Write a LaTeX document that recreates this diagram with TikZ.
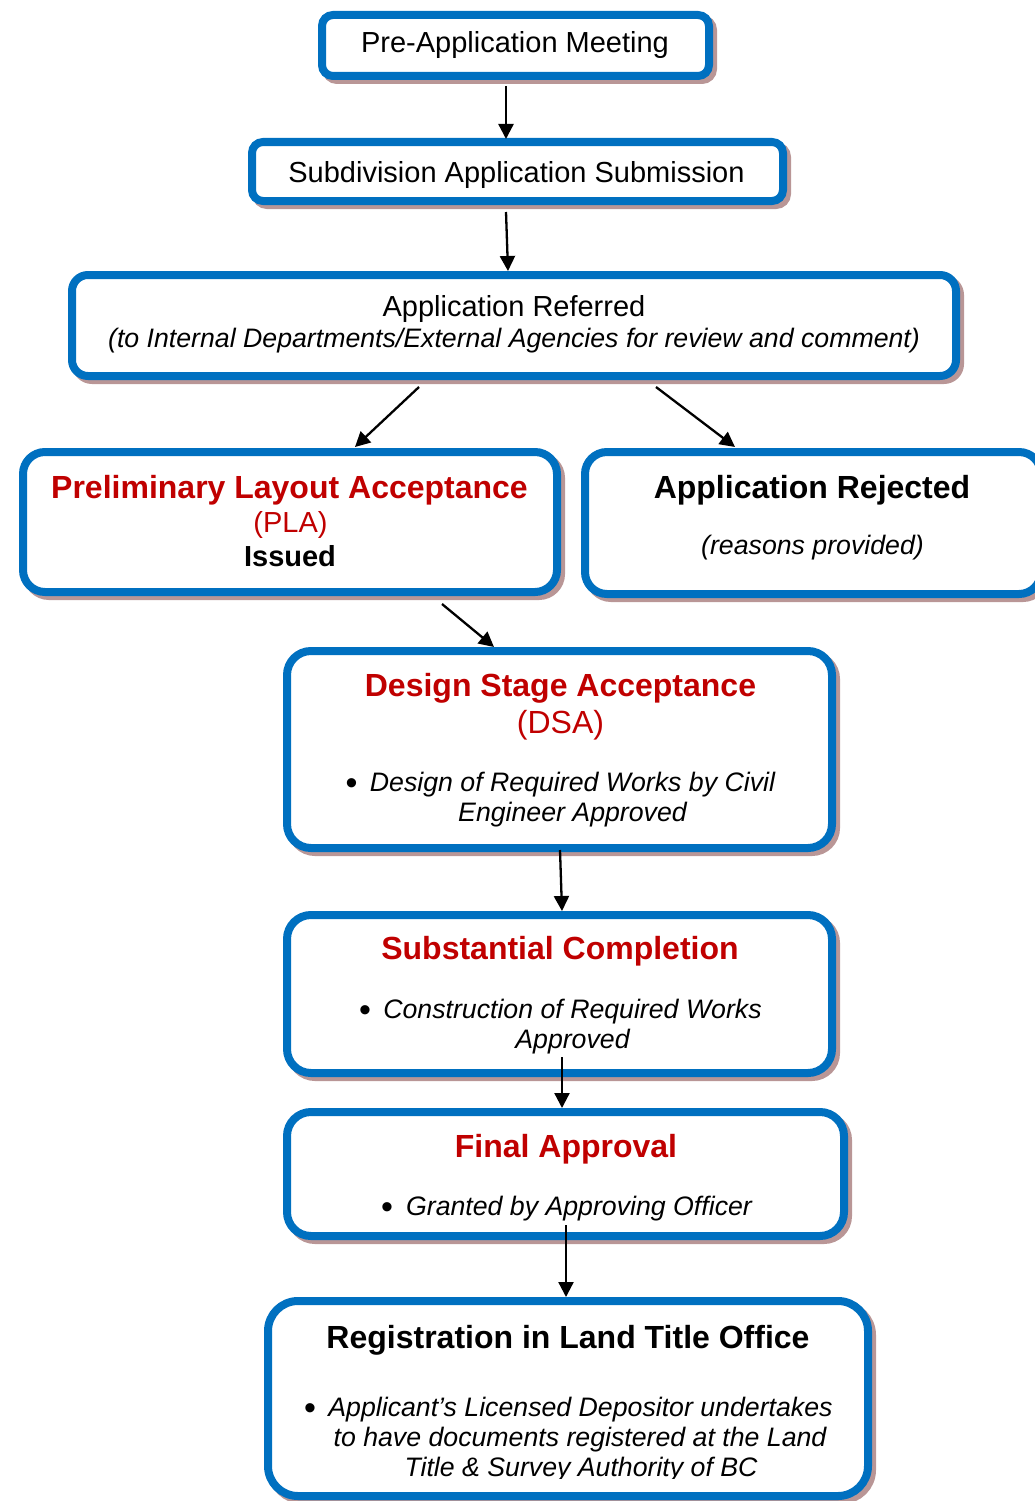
\documentclass[tikz,border=0pt]{standalone}
\usepackage{fontspec}
\setmainfont{Liberation Sans}
\usetikzlibrary{arrows.meta,calc}
\definecolor{bblue}{RGB}{0,112,192}
\definecolor{dred}{RGB}{192,0,0}
\definecolor{shad}{RGB}{185,150,150}
\begin{document}
\begin{tikzpicture}[x=1pt,y=-1pt,
  box/.style={draw=bblue, line width=8pt, fill=white, inner sep=0pt, outer sep=0pt,
    preaction={draw=shad, fill=shad, line width=8pt, transform canvas={shift={(4pt,-4pt)}}}},
  reg/.style={font=\fontsize{29}{34}\selectfont, anchor=base, inner sep=0pt},
  hd/.style={font=\fontsize{32}{38}\selectfont\bfseries, anchor=base, inner sep=0pt},
  it/.style={font=\fontsize{26.7}{30}\selectfont\itshape, anchor=base, inner sep=0pt},
  bul/.style={font=\fontsize{34}{38}\selectfont, anchor=base, inner sep=0pt},
  arr/.style={line width=2.3pt, -{Triangle[length=15pt,width=15pt]}}]
\useasboundingbox (0,0) rectangle (1035,1501);

% boxes
\node[box, rounded corners=11pt, minimum width=387pt, minimum height=61pt] (b1) at (515.5,45.5) {};
\node[box, rounded corners=11pt, minimum width=531pt, minimum height=59pt] (b2) at (517.5,171.5) {};
\node[box, rounded corners=16pt, minimum width=884pt, minimum height=101pt] (b3) at (514,325.5) {};
\node[box, rounded corners=22pt, minimum width=534pt, minimum height=140pt] (b4) at (290,522) {};
\node[box, rounded corners=22pt, minimum width=456pt, minimum height=142pt] (b5) at (813,523) {};
\node[box, rounded corners=24pt, minimum width=545pt, minimum height=197pt] (b6) at (559.5,749.5) {};
\node[box, rounded corners=24pt, minimum width=545pt, minimum height=158pt] (b7) at (559.5,994) {};
\node[box, rounded corners=24pt, minimum width=557pt, minimum height=124pt] (b8) at (565.5,1174) {};
\node[box, rounded corners=30pt, minimum width=600pt, minimum height=195pt] (b9) at (568,1398.5) {};

% texts
\node[reg] (t1) at (515,53) {Pre-Application Meeting};
\node[reg] (t2) at (516.5,182) {Subdivision Application Submission};
\node[reg] (t3a) at (514,316) {Application Referred};
\node[it] (t3b) at (514,347.5) {(to Internal Departments/External Agencies for review and comment)};

\node[hd, text=dred] (t4a) at (289.5,498) {Preliminary Layout Acceptance};
\node[reg, text=dred] (t4b) at (290.5,532) {(PLA)};
\node[reg, font=\fontsize{29}{34}\selectfont\bfseries] (t4c) at (290,566) {Issued};

\node[hd] (t5a) at (812,498) {Application Rejected};
\node[it] (t5b) at (812.5,554) {(reasons provided)};

\node[hd, text=dred] (t6a) at (560.5,696) {Design Stage Acceptance};
\node[reg, font=\fontsize{32}{38}\selectfont, text=dred] (t6b) at (560.5,733) {(DSA)};
\node[bul] (u6) at (351.5,794.5) {•};
\node[it] (t6c) at (572.5,791.5) {Design of Required Works by Civil};
\node[it] (t6d) at (572.5,821.5) {Engineer Approved};

\node[hd, text=dred] (t7a) at (560,959.5) {Substantial Completion};
\node[bul] (u7) at (365,1021.5) {•};
\node[it] (t7b) at (572.5,1018.5) {Construction of Required Works};
\node[it] (t7c) at (572.5,1048.5) {Approved};

\node[hd, text=dred] (t8a) at (566,1157.5) {Final Approval};
\node[bul] (u8) at (387,1218.5) {•};
\node[it] (t8b) at (579,1215.5) {Granted by Approving Officer};

\node[hd] (t9a) at (568,1348.5) {Registration in Land Title Office};
\node[bul] (u9) at (310,1419.5) {•};
\node[it] (t9b) at (580.5,1416.5) {Applicant’s Licensed Depositor undertakes};
\node[it] (t9c) at (580,1446.5) {to have documents registered at the Land};
\begin{scope}
\clip (0,1300) rectangle (1035,1478);
\node[it] (t9d) at (581,1476.5) {Title \& Survey Authority of BC};
\end{scope}

% connectors
\draw[arr] ($(b1.south)+(-9.5,10)$) -- ($(b2.north)+(-11.5,-3)$);
\draw[arr] ($(b2.south)+(-11.5,11)$) -- ($(b3.north)+(-6,-4)$);
\draw[arr] ($(b3.south)+(-95,11)$) -- ($(b4.north)+(65,-5)$);
\draw[arr] ($(b3.south)+(142,11)$) -- ($(b5.north)+(-78,-5)$);
\draw[arr] ($(b4.south)+(152,12)$) -- ($(b6.north)+(-65.5,-4)$);
\draw[arr] ($(b6.south)+(0.5,2)$) -- ($(b7.north)+(2.5,-4)$);
\draw[arr] ($(b7.south)+(2.5,-16)$) -- ($(b8.north)+(-3.5,-4)$);
\draw[arr] ($(b8.south)+(0.5,-11)$) -- ($(b9.north)+(-2,-4)$);
\end{tikzpicture}
\end{document}
